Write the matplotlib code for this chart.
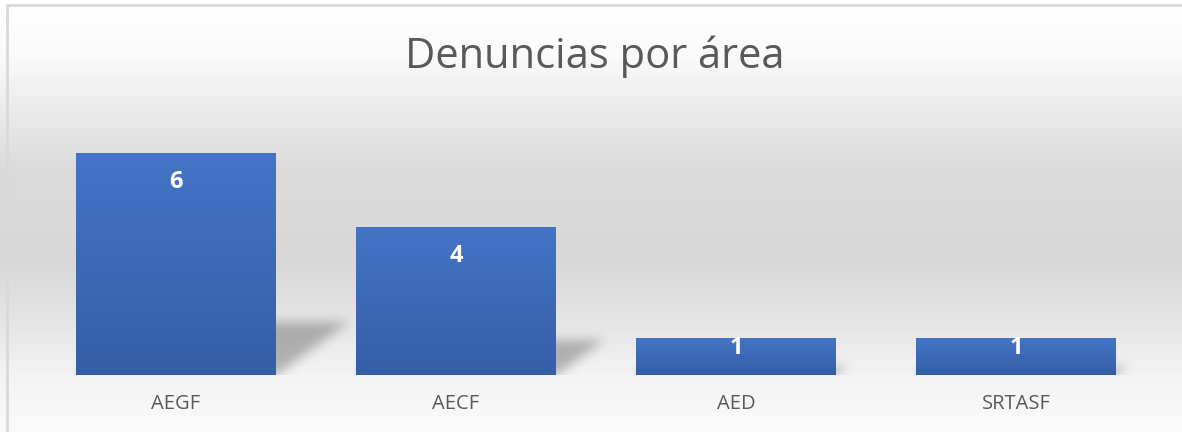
import numpy as np
import matplotlib.pyplot as plt
from matplotlib.colors import LinearSegmentedColormap

# data
categories = ["AEGF", "AECF", "AED", "SRTASF"]
values = [6, 4, 1, 1]
title = "Denuncias por área"

W, H = 1182, 432
fig = plt.figure(figsize=(W / 100, H / 100), dpi=100)

# background gradient (white -> grey -> white)
m = 4
bg = fig.add_axes([-m / W, -m / H, (W + 2 * m) / W, (H + 2 * m) / H], zorder=0)
ys = np.array([0, 5, 60, 110, 170, 260, 320, 370, 432])
gs = np.array([255, 255, 250, 235, 219, 216, 229, 243, 251]) / 255
col = np.interp(np.arange(H), ys, gs)
img = np.repeat(col[:, None], 4, axis=1)
bg.imshow(np.dstack([img, img, img]), aspect="auto",
          extent=[-m, W + m, H + m, -m], interpolation="bilinear")
bg.set_xlim(-m, W + m)
bg.set_ylim(H + m, -m)
bg.axis("off")
# chart border
bg.plot([6.5, 6.5, W + 5], [H + 5, 4.5, 4.5], color="#d9d9d9", lw=2.0)

fig.text(595 / W, 1 - 57 / H, title, ha="center", va="center",
         fontsize=30, color="#595959", family="Open Sans")

AX_L, AX_B, AX_W, AX_H = 36, H - 375, 1120, 259
ax = fig.add_axes([AX_L / W, AX_B / H, AX_W / W, AX_H / H], zorder=1)
ax.patch.set_alpha(0)
x = np.arange(len(categories))
ymax = 7
bars = ax.bar(x, values, width=0.714, color="none", zorder=3)
ax.set_xlim(-0.5, len(categories) - 0.5)
ax.set_ylim(0, ymax)
for s in ax.spines.values():
    s.set_visible(False)
ax.set_yticks([])
ax.set_xticks(x)
ax.set_xticklabels(categories, fontsize=14.5, color="#595959", family="Open Sans")
ax.tick_params(axis="x", length=0, pad=14)

# pixel scale
px_x = AX_W / len(categories)
px_y = AX_H / ymax


def data_to_px(xd):
    return (xd + 0.5) * px_x


# soft perspective shadow, built as a blurred alpha image
pad = 40
SH = AX_H + pad
SW = AX_W + pad
alpha = np.zeros((SH, SW))
for b, v in zip(bars, values):
    x0, x1 = data_to_px(b.get_x()), data_to_px(b.get_x() + b.get_width())
    hs = 0.26 * v * px_y
    for r in range(SH):
        hgt = (SH - 1 - r) - pad / 2  # pixel height above baseline
        if hgt < 0 or hgt > hs:
            continue
        dd = hgt * 1.27
        a = 0.26
        c0 = int(x0 + dd) + pad // 2
        c1 = int(x1 + dd) + pad // 2
        alpha[r, c0:c1] = np.maximum(alpha[r, c0:c1], a)


def box_blur(a, r):
    k = np.ones(2 * r + 1) / (2 * r + 1)
    a = np.apply_along_axis(lambda m: np.convolve(m, k, mode="same"), 0, a)
    a = np.apply_along_axis(lambda m: np.convolve(m, k, mode="same"), 1, a)
    return a


for _ in range(3):
    alpha = box_blur(alpha, 5)
shadow = np.zeros((SH, SW, 4))
shadow[..., 3] = alpha
ext_l = -0.5 - (pad / 2) / px_x
ext_r = len(categories) - 0.5 + (pad / 2) / px_x
ext_b = -(pad / 2) / px_y
ext_t = ymax
ax.imshow(shadow, aspect="auto", extent=[ext_l, ext_r, ext_b, ext_t],
          zorder=2, interpolation="bilinear")

cmap = LinearSegmentedColormap.from_list("bar", ["#345ea7", "#4574c6"])
grad = np.linspace(0, 1, 256)[:, None]
for b, v in zip(bars, values):
    x0, w = b.get_x(), b.get_width()
    im = ax.imshow(grad, cmap=cmap, aspect="auto", origin="lower",
                   extent=[x0, x0 + w, 0, v], zorder=3)
    im.set_clip_path(b)
    # data label
    off = min(29, v * px_y / 2 - 9)
    ax.annotate(str(v), (x0 + w / 2, v), xytext=(0, -off),
                textcoords="offset pixels", ha="center", va="center",
                color="white", fontsize=17, fontweight="bold",
                family="Open Sans", zorder=5)

ax.set_xlim(-0.5, len(categories) - 0.5)
ax.set_ylim(0, ymax)
fig.savefig("out.png", dpi=100)
